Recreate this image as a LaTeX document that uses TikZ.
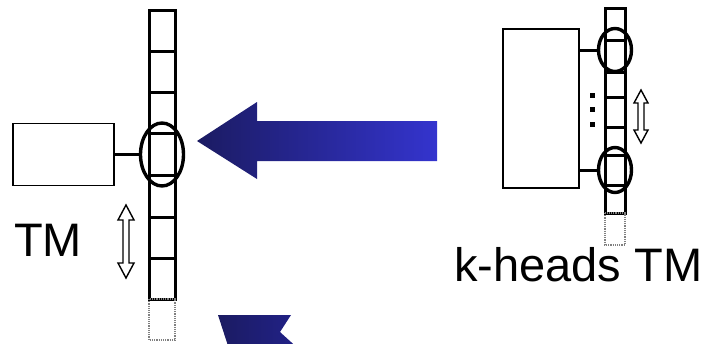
\documentclass[tikz,border=0pt]{standalone}
\usepackage{fontspec}
\setmainfont{Liberation Sans}
\usetikzlibrary{shapes.geometric}
\definecolor{navydark}{HTML}{1B1B62}
\definecolor{navymid}{HTML}{22228A}
\definecolor{bluebright}{HTML}{3434CE}
\tikzset{
  cell/.style={draw, line width=3pt},
  ghostcell/.style={draw=gray, densely dotted, line width=1.2pt},
  ctrl/.style={draw, line width=1.6pt, inner sep=0pt},
  headmark/.style={draw, ellipse, line width=3.4pt, inner sep=0pt},
  wire/.style={draw, line width=3pt},
  movearrow/.style={draw, fill=white, line width=1.4pt, line join=miter},
  caption/.style={font=\fontsize{47}{55}\selectfont, inner sep=0pt}
}
\begin{document}
\begin{tikzpicture}[x=1pt, y=-1pt]
\useasboundingbox (0,0) rectangle (710,343);

% ---- single-head machine: tape ----
\foreach \a/\b in {10/51, 51/92, 92/133, 133/175, 175/217, 217/258, 258/299}
  \draw[cell] (149,\a) rectangle (175,\b);
\draw[ghostcell] (149,299) rectangle (175,340);

\node[ctrl, minimum width=101pt, minimum height=62pt] (lbox) at (63.5,154.5) {};
\node[headmark, minimum width=43pt, minimum height=63pt] (lhead) at (162,154.5) {};
\path[wire] (lbox.east) -- (lhead.west);

% head movement
\draw[movearrow] (126,205) -- (134,220) -- (129,220) -- (129,263) -- (134,263)
  -- (126,278) -- (118,263) -- (123,263) -- (123,220) -- (118,220) -- cycle;

\node[caption, anchor=base west] (tm) at (14,256) {TM};

% ---- k-head machine: tape ----
\foreach \a/\b in {8/40, 40/72, 72/97, 97/127, 127/155, 155/185, 185/213}
  \draw[cell] (605,\a) rectangle (625,\b);
\draw[ghostcell] (605,213) rectangle (625,245);

\node[ctrl, minimum width=76pt, minimum height=159pt] (rbox) at (541,108.5) {};
\node[headmark, minimum width=33pt, minimum height=43pt] (rhead1) at (615,50) {};
\node[headmark, minimum width=33pt, minimum height=45pt] (rhead2) at (615,170) {};
\path[wire] (rbox.east |- rhead1.west) -- (rhead1.west);
\path[wire] (rbox.east |- rhead2.west) -- (rhead2.west);

% intermediate heads
\foreach \y in {95,109,124}
  \fill (589.5,\y-2.5) rectangle (594.5,\y+2.5);

\draw[movearrow] (641,90) -- (648,103) -- (644,103) -- (644,130) -- (648,130)
  -- (641,143) -- (634,130) -- (638,130) -- (638,103) -- (634,103) -- cycle;

\node[caption, anchor=base west] (ktm) at (454,281) {k-heads TM};

% ---- simulation arrow ----
\shade[left color=navydark, right color=bluebright]
  (197,141) -- (257,102) -- (257,121) -- (437,121) -- (437,161)
  -- (257,161) -- (257,179) -- cycle;

% ---- partly visible arrow at the bottom ----
\begin{scope}
\clip (0,0) rectangle (710,343);
\shade[left color=navydark, right color=navymid]
  (218,315) -- (291,315) -- (280,332) -- (302,352) -- (230,352) -- cycle;
\end{scope}
\end{tikzpicture}
\end{document}
